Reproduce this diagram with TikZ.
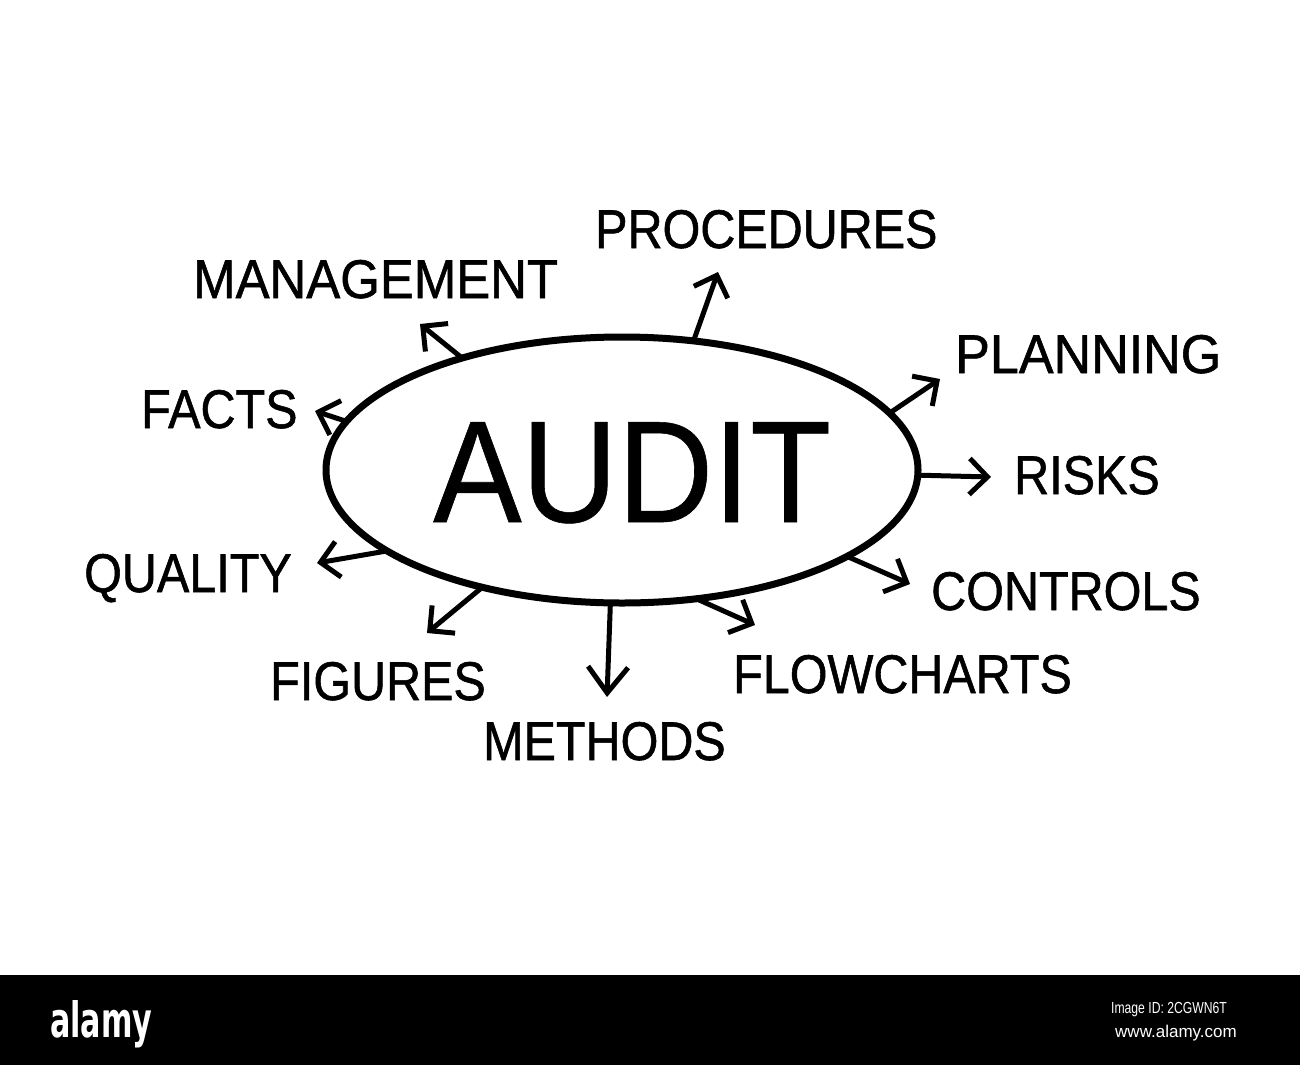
\documentclass[tikz,border=0pt]{standalone}
\usepackage{fontspec}
\setmainfont{Liberation Sans}
\newfontfamily\lblfont[FakeStretch=0.89,FakeBold=1]{Liberation Sans}
\newfontfamily\lblwideA[FakeStretch=0.934,FakeBold=1]{Liberation Sans}
\newfontfamily\lblwideB[FakeStretch=0.955,FakeBold=1]{Liberation Sans}
\newfontfamily\bigfont[FakeStretch=0.915,FakeBold=0.4]{Liberation Sans}
\newfontfamily\logofont[FakeStretch=0.62]{DejaVu Sans}
\newfontfamily\idfont[FakeStretch=0.76]{Liberation Sans}
\usetikzlibrary{arrows.meta,shapes.geometric}
\begin{document}
\begin{tikzpicture}[x=1pt,y=-1pt,
  lbl/.style={font=\lblfont\fontsize{54.5}{60}\selectfont, anchor=base west, inner sep=0pt},
  lblA/.style={lbl, font=\lblwideA\fontsize{54.5}{60}\selectfont},
  lblB/.style={lbl, font=\lblwideB\fontsize{54.5}{60}\selectfont},
  arr/.style={line width=5pt, -{Straight Barb[length=18pt,width=36pt]}},
  bigarr/.style={line width=5pt, -{Straight Barb[length=26pt,width=40pt]}}]
\useasboundingbox (0,0) rectangle (1300,1065);
\fill[white] (0,0) rectangle (1300,1065);
\fill[black] (0,975) rectangle (1300,1065);

% central ellipse and title
\node[ellipse, draw, line width=7pt, minimum width=592pt, minimum height=266pt,
      inner sep=0pt, outer sep=0pt] (audit) at (622,470) {};
\node[font=\bigfont\fontsize{145}{150}\selectfont, anchor=base west, inner sep=0pt]
      (title) at (433,522) {AUDIT};

% labels
\node[lbl]  (procedures) at (595,248) {PROCEDURES};
\node[lblA] (management) at (193,298) {MANAGEMENT};
\node[lblB] (planning)   at (955,373) {PLANNING};
\node[lbl]  (facts)      at (141,428) {FACTS};
\node[lbl]  (risks)      at (1014,494) {RISKS};
\node[lbl]  (quality)    at (84,592) {QUALITY};
\node[lbl]  (controls)   at (931,610) {CONTROLS};
\node[lbl]  (flowcharts) at (733,693) {FLOWCHARTS};
\node[lbl]  (figures)    at (270,700) {FIGURES};
\node[lbl]  (methods)    at (483,760) {METHODS};

% arrow tips
\coordinate (tMan)  at (420,324);
\coordinate (tFac)  at (315,411);
\coordinate (tPro)  at (718,272);
\coordinate (tPla)  at (940,379);
\coordinate (tRis)  at (991,477);
\coordinate (tCon)  at (910,584);
\coordinate (tQua)  at (317,563);
\coordinate (tFig)  at (427,633);
\coordinate (tMet)  at (607,697);
\coordinate (tFlo)  at (755,625);

% arrows
\draw[arr] (audit.145.4) -- (tMan);
\draw[arr] (audit.170.5) -- (tFac);
\draw[arr] (audit.61.2)  -- (tPro);
\draw[arr] (audit.12.1)  -- (tPla);
\draw[arr] (audit.-1.3)  -- (tRis);
\draw[arr] (audit.-21)   -- (tCon);
\draw[arr] (audit.199.5) -- (tQua);
\draw[arr] (audit.220.3) -- (tFig);
\draw[bigarr] (audit.265.3) -- (tMet);
\draw[arr] (audit.300.8) -- (tFlo);

% footer
\node[anchor=base west, text=white, inner sep=0pt,
      font=\logofont\bfseries\fontsize{48.7}{50}\selectfont] (logo) at (50,1037) {alamy};
\node[anchor=base west, text=white, inner sep=0pt,
      font=\idfont\fontsize{16}{18}\selectfont] (imgid) at (1111,1013) {Image ID: 2CGWN6T};
\node[anchor=base west, text=white, inner sep=0pt,
      font=\fontsize{17}{19}\selectfont] (www) at (1115,1037) {www.alamy.com};
\end{tikzpicture}
\end{document}
